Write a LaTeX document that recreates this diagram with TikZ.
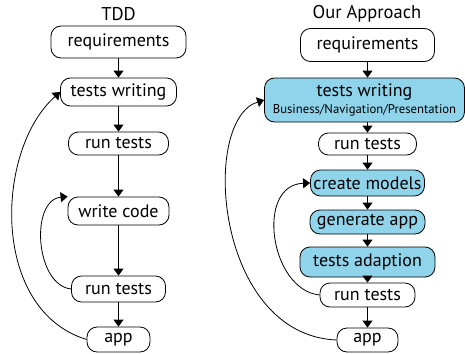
\documentclass[tikz,border=0pt]{standalone}
\usepackage{fontspec}
\setmainfont{PT Sans}
\usetikzlibrary{arrows.meta}
\definecolor{boxblue}{RGB}{143,212,235}
\begin{document}
\begin{tikzpicture}[x=1pt,y=-1pt,
  box/.style={draw=black,line width=0.8pt,rounded corners=10pt,inner sep=0pt,font=\fontsize{18}{20}\selectfont},
  bluebox/.style={box,fill=boxblue},
  arr/.style={line width=0.8pt,-{Triangle[width=10pt,length=7pt]}},
  ttl/.style={font=\fontsize{18.5}{20}\selectfont}]
\useasboundingbox (0,0) rectangle (465,353);
% left column
\node[ttl] (t1) at (118.5,14) {TDD};
\node[box,minimum width=135pt,minimum height=32pt] (req1) at (118.5,42) {requirements};
\node[box,minimum width=116pt,minimum height=28pt] (tw1) at (118.5,92) {tests writing};
\node[box,minimum width=100pt,minimum height=23pt] (rt1) at (118.5,143.5) {run tests};
\node[box,minimum width=101pt,minimum height=28pt] (wc1) at (118.5,211) {write code};
\node[box,minimum width=94pt,minimum height=26pt] (rt2) at (118.5,289) {run tests};
\node[box,minimum width=63pt,minimum height=25pt] (app1) at (118.5,339.5) {app};
\draw[arr] (req1.south) -- (tw1.north);
\draw[arr] (tw1.south) -- (rt1.north);
\draw[arr] (rt1.south) -- (wc1.north);
\draw[arr] (wc1.south) -- (rt2.north);
\draw[arr] (rt2.south) -- (app1.north);
\draw[arr] (app1.west) .. controls (-10,310) and (-5,150) .. (tw1.west);
\draw[arr] (rt2.west) .. controls (35,285) and (30,200) .. (wc1.north west);
% right column
\node[ttl] (t2) at (367,14) {Our Approach};
\node[box,minimum width=134pt,minimum height=33pt] (req2) at (367.5,45) {requirements};
\node[bluebox,minimum width=200pt,minimum height=44pt,align=center] (tw2) at (364.5,100) {tests writing\\[-3pt]{\fontsize{12.7}{14}\selectfont Business/Navigation/Presentation}};
\node[box,minimum width=98pt,minimum height=22pt] (rt3) at (367.5,144) {run tests};
\node[bluebox,minimum width=114pt,minimum height=26pt] (cm) at (367.5,183) {create models};
\node[bluebox,minimum width=115pt,minimum height=24pt] (ga) at (367.5,222) {generate app};
\node[bluebox,minimum width=135pt,minimum height=30pt] (ta) at (367.5,262) {tests adaption};
\node[box,minimum width=95pt,minimum height=24pt] (rt4) at (367.5,295) {run tests};
\node[box,minimum width=61pt,minimum height=24pt] (app2) at (367.5,340) {app};
\draw[arr] (req2.south) -- (req2.south |- tw2.north);
\draw[arr] (rt3.north |- tw2.south) -- (rt3.north);
\draw[arr] (rt3.south) -- (cm.north);
\draw[arr] (cm.south) -- (ga.north);
\draw[arr] (ga.south) -- (ta.north);
\draw[arr] (ta.south) -- (rt4.north);
\draw[arr] (rt4.south) -- (app2.north);
\draw[arr] (app2.west) .. controls (215,335) and (200,120) .. (tw2.west);
\draw[arr] (rt4.west) .. controls (270,290) and (255,185) .. (cm.west);
\end{tikzpicture}
\end{document}
